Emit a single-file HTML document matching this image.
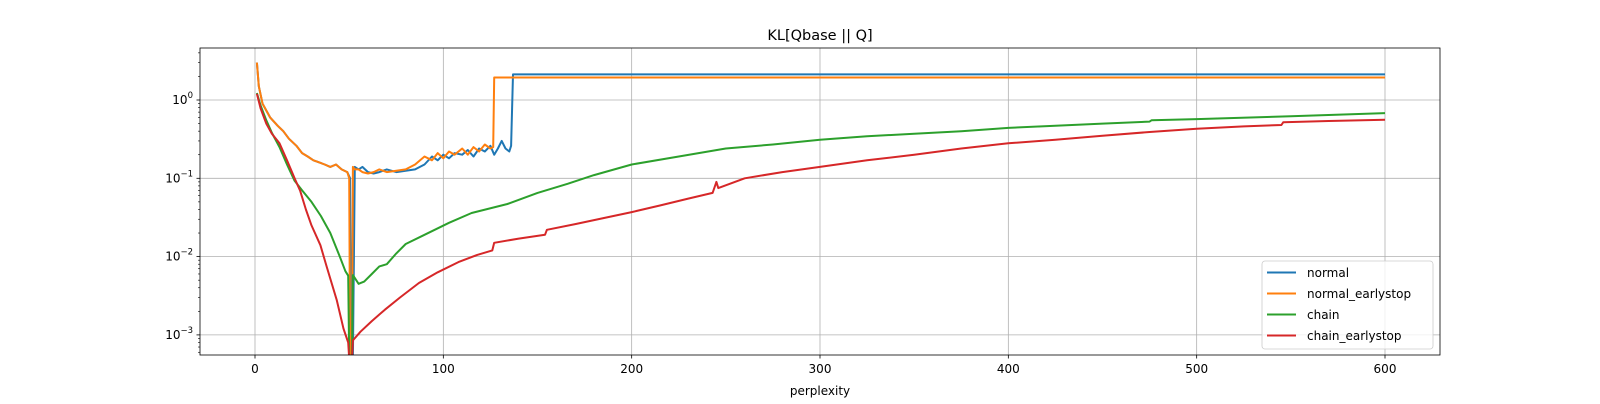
<!DOCTYPE html>
<html><head><meta charset="utf-8"><style>
body{margin:0;background:#fff;font-family:"DejaVu Sans","Liberation Sans",sans-serif;}
svg text{font-family:"DejaVu Sans","Liberation Sans",sans-serif;}
</style></head><body>
<svg id="chart" width="1600" height="400" xmlns="http://www.w3.org/2000/svg"></svg>
<script>
const xTicks=[0,100,200,300,400,500,600];
const yTickExp=[0,-1,-2,-3];
const seriesNames=["normal","normal_earlystop","chain","chain_earlystop"];
const colors=["#1f77b4","#ff7f0e","#2ca02c","#d62728"];
const normalX=[1,2,4,8,12,15,18,22,25,28,31,34,37,40,43,46,49,50.5,51,52,53,55,57,60,63,66,70,75,80,85,90,94,97,100,103,106,110,113,116,119,122,125,127,129,131,133,135,136,137,600];
const normalY=[3.0,1.5,0.9,0.6,0.47,0.40,0.32,0.26,0.21,0.19,0.17,0.16,0.15,0.14,0.15,0.13,0.12,0.10,0.0005,0.0005,0.14,0.13,0.14,0.12,0.115,0.12,0.13,0.12,0.125,0.13,0.15,0.19,0.17,0.20,0.18,0.21,0.20,0.23,0.19,0.24,0.22,0.26,0.20,0.24,0.30,0.24,0.22,0.26,2.12,2.12];
const earlyX=[1,2,4,8,12,15,18,22,25,28,31,34,37,40,43,46,49,50,50.5,51.5,52,53,55,57,60,63,66,70,75,80,85,90,94,97,100,103,106,110,113,116,119,122,125,126.5,127,600];
const earlyY=[3.0,1.5,0.9,0.6,0.47,0.40,0.32,0.26,0.21,0.19,0.17,0.16,0.15,0.14,0.15,0.13,0.12,0.10,0.0005,0.0005,0.14,0.13,0.13,0.12,0.115,0.12,0.13,0.12,0.125,0.13,0.15,0.19,0.17,0.21,0.18,0.22,0.20,0.24,0.20,0.25,0.22,0.27,0.24,0.25,1.94,1.94];
const chainX=[1,3,6,9,13,17,21,25,30,35,40,45,48,49.5,50,51.5,52,55,58,62,66,70,75,80,90,103,115,134,150,166,180,200,225,250,275,300,325,350,375,400,425,450,475,476,500,550,600];
const chainY=[1.23,0.85,0.55,0.38,0.25,0.15,0.093,0.07,0.05,0.033,0.02,0.01,0.0065,0.0057,0.0005,0.0005,0.0058,0.0045,0.0048,0.006,0.0075,0.008,0.011,0.0145,0.019,0.027,0.036,0.047,0.065,0.085,0.11,0.15,0.19,0.24,0.27,0.31,0.345,0.37,0.40,0.44,0.47,0.50,0.53,0.55,0.57,0.62,0.68];
const redX=[1,3,6,9,13,17,21,24,27,30,34.7,38,43.4,47,49.5,50,51.5,52,56,62,69,77,87,97,108,118,126,127,140,154,155,170,185,200,215,230,243,245,246,260,280,300,325,350,375,400,425,450,475,500,525,545,546,570,600];
const redY=[1.2,0.78,0.5,0.37,0.28,0.17,0.1,0.069,0.04,0.025,0.014,0.0075,0.0028,0.0012,0.0008,0.0005,0.0005,0.00085,0.0011,0.0015,0.0021,0.003,0.0046,0.0063,0.0085,0.0105,0.012,0.015,0.017,0.019,0.022,0.026,0.031,0.037,0.045,0.055,0.065,0.09,0.075,0.1,0.12,0.14,0.17,0.2,0.24,0.28,0.31,0.35,0.39,0.43,0.46,0.48,0.52,0.54,0.56];
const allX=[normalX,earlyX,chainX,redX], allY=[normalY,earlyY,chainY,redY];

const NS="http://www.w3.org/2000/svg";
const svg=document.getElementById('chart');
const L=200,R=1440,T=48,B=355;
function sx(v){return 255+v*(1385-255)/600;}
function sy(v){return 100-78.3*Math.log10(v);}
function mk(tag,attrs,parent){const e=document.createElementNS(NS,tag);for(const k in attrs)e.setAttribute(k,attrs[k]);(parent||svg).appendChild(e);return e;}
const defs=mk('defs',{});const cp=mk('clipPath',{id:'clip'},defs);mk('rect',{x:L,y:T,width:R-L,height:B-T},cp);
const grid=mk('g',{});


xTicks.forEach(t=>{const x=sx(t);
 mk('line',{x1:x,x2:x,y1:T,y2:B,stroke:'#b0b0b0','stroke-width':0.8},grid);
 mk('line',{x1:x,x2:x,y1:B,y2:B+3.5,stroke:'#000','stroke-width':0.8});
 const tx=mk('text',{x:x,y:B+18,'font-size':12,'text-anchor':'middle'});tx.textContent=t;
 
 
});
yTickExp.forEach(e=>{const y=sy(Math.pow(10,e));
 mk('line',{x1:L,x2:R,y1:y,y2:y,stroke:'#b0b0b0','stroke-width':0.8},grid);
 mk('line',{x1:L-3.5,x2:L,y1:y,y2:y,stroke:'#000','stroke-width':0.8});
 const tx=mk('text',{x:L-7,y:y+4,'font-size':12,'text-anchor':'end'});
 
 
 tx.innerHTML='10<tspan dy="-6" font-size="8.5">'+(e===0?'0':'\u2212'+(-e))+'</tspan>';
});
for(let e=-4;e<=0;e++)for(let m=2;m<=9;m++){const v=m*Math.pow(10,e);const y=sy(v);if(y>T&&y<B)mk('line',{x1:L-2,x2:L,y1:y,y2:y,stroke:'#000','stroke-width':0.6});}
allX.forEach((xs,i)=>{let d='';xs.forEach((x,j)=>{d+=(j?'L':'M')+sx(x).toFixed(1)+','+Math.min(sy(allY[i][j]),500).toFixed(1);});
 const p=mk('path',{d:d,fill:'none',stroke:colors[i],'stroke-width':2,'clip-path':'url(#clip)','stroke-linejoin':'round'});
 
 
});
mk('rect',{x:L,y:T,width:R-L,height:B-T,fill:'none',stroke:'#000','stroke-width':0.8});
const title=mk('text',{x:(L+R)/2,y:40,'font-size':14.5,'text-anchor':'middle'});title.textContent='KL[Qbase || Q]';


const xl=mk('text',{x:(L+R)/2,y:395,'font-size':12,'text-anchor':'middle'});xl.textContent='perplexity';


const lg=mk('g',{});


mk('rect',{x:1262,y:261,width:171,height:88,rx:3,fill:'#fff','fill-opacity':0.8,stroke:'#ccc','stroke-width':0.8},lg);
seriesNames.forEach((n,i)=>{const y=272.5+i*21;
 mk('line',{x1:1267,x2:1296,y1:y,y2:y,stroke:colors[i],'stroke-width':2},lg);
 const t=mk('text',{x:1307,y:y+4.5,'font-size':12},lg);t.textContent=n;
 
 
});
</script>
</body></html>
